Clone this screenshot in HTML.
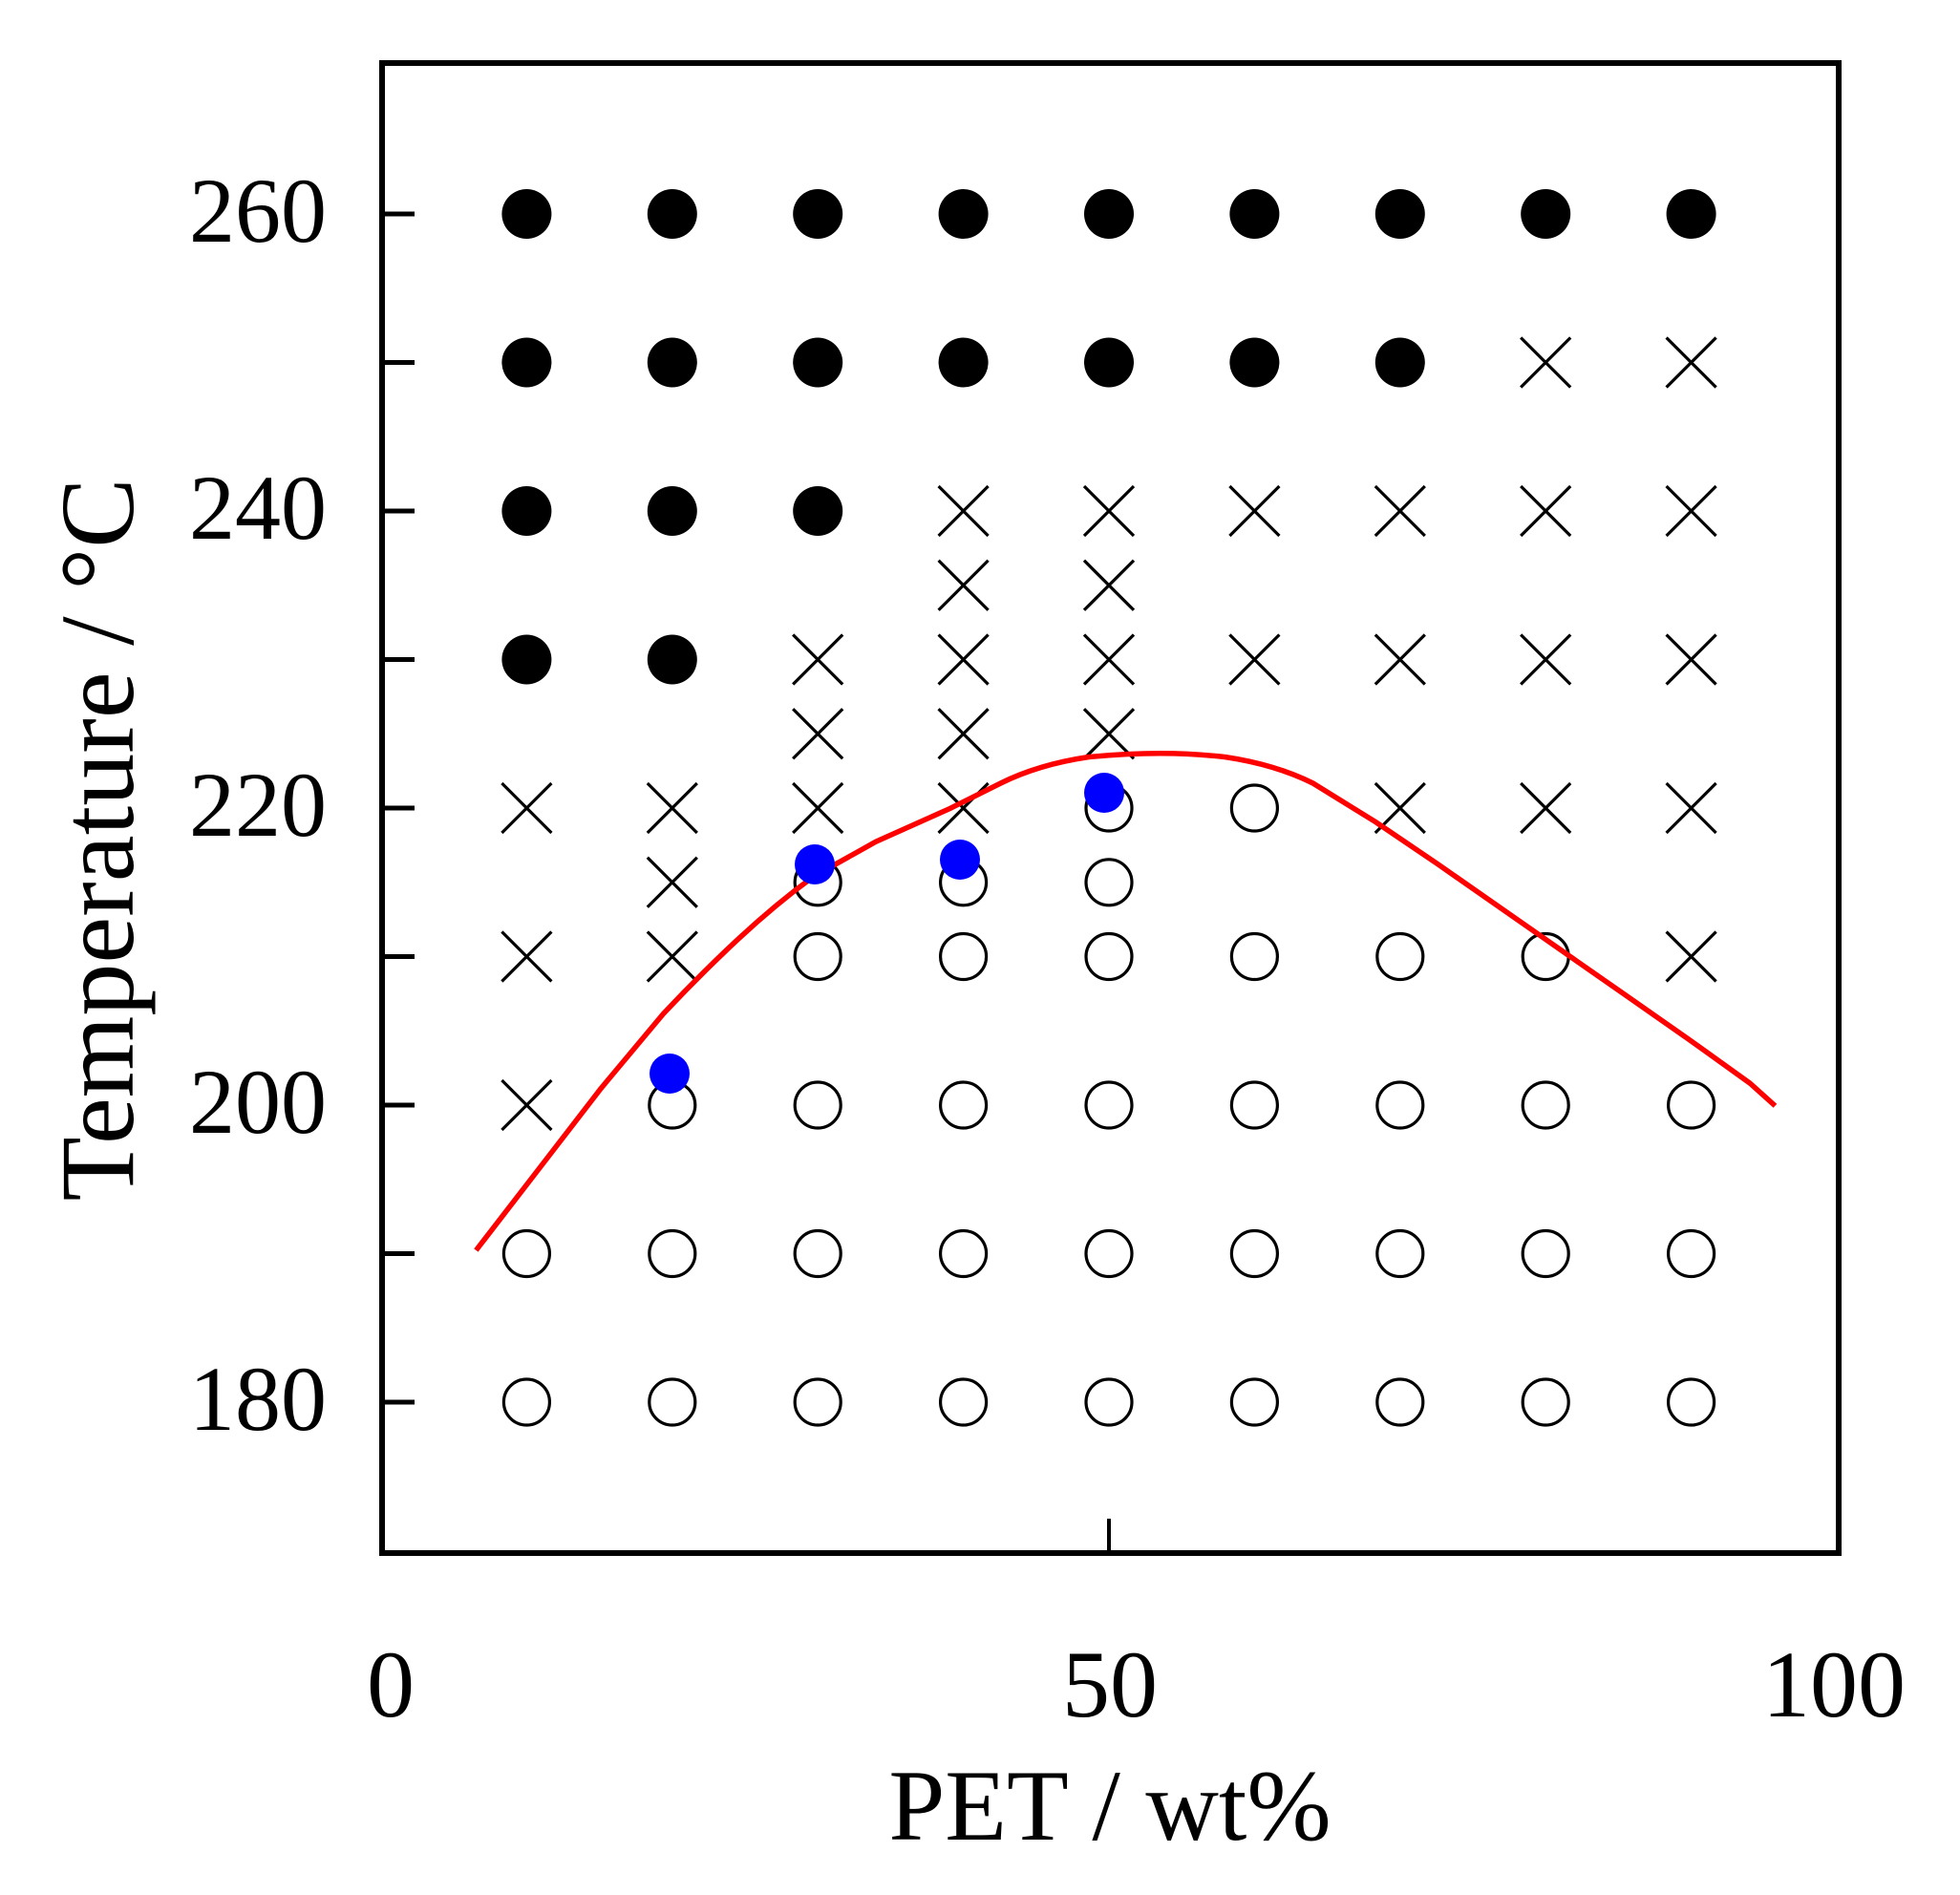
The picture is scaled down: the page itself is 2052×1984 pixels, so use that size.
<!DOCTYPE html>
<html><head><meta charset="utf-8"><style>
html,body{margin:0;padding:0;background:#fff;}
svg{display:block;}
text{font-family:"Liberation Serif",serif;fill:#000;}
</style></head><body>
<svg width="2052" height="1984" viewBox="0 0 2052 1984" xmlns="http://www.w3.org/2000/svg">
<defs>
<circle id="f" r="26" fill="#000"/>
<circle id="o" r="24" fill="none" stroke="#000" stroke-width="3.2"/>
<path id="x" d="M-26,-26L26,26M-26,26L26,-26" stroke="#000" stroke-width="3.2" fill="none"/>
</defs>
<rect x="0" y="0" width="2052" height="1984" fill="#fff"/>
<rect x="400" y="66" width="1525" height="1560" fill="none" stroke="#000" stroke-width="6"/>
<g stroke="#000" stroke-width="5">
<line x1="400" y1="224" x2="434" y2="224"/>
<line x1="400" y1="379.5" x2="434" y2="379.5"/>
<line x1="400" y1="535" x2="434" y2="535"/>
<line x1="400" y1="690.5" x2="434" y2="690.5"/>
<line x1="400" y1="846" x2="434" y2="846"/>
<line x1="400" y1="1001.5" x2="434" y2="1001.5"/>
<line x1="400" y1="1157" x2="434" y2="1157"/>
<line x1="400" y1="1312.5" x2="434" y2="1312.5"/>
<line x1="400" y1="1468" x2="434" y2="1468"/>
<line x1="1161" y1="1626" x2="1161" y2="1590" stroke-width="4"/>
</g>
<g font-size="96" text-anchor="end">
<text x="342" y="253">260</text>
<text x="342" y="564">240</text>
<text x="342" y="875">220</text>
<text x="342" y="1186">200</text>
<text x="342" y="1497">180</text>
</g>
<g font-size="100" text-anchor="middle">
<text x="409" y="1797">0</text>
<text x="1162" y="1797">50</text>
<text x="1920" y="1797">100</text>
</g>
<text x="1162" y="1926" font-size="106" text-anchor="middle">PET / wt%</text>
<text transform="translate(139,879) rotate(-90)" font-size="110" text-anchor="middle">Temperature / °C</text>

<use href="#f" x="551.4" y="224"/><use href="#f" x="703.8" y="224"/><use href="#f" x="856.2" y="224"/><use href="#f" x="1008.6" y="224"/><use href="#f" x="1161" y="224"/><use href="#f" x="1313.4" y="224"/><use href="#f" x="1465.8" y="224"/><use href="#f" x="1618.2" y="224"/><use href="#f" x="1770.6" y="224"/>
<use href="#f" x="551.4" y="379.5"/><use href="#f" x="703.8" y="379.5"/><use href="#f" x="856.2" y="379.5"/><use href="#f" x="1008.6" y="379.5"/><use href="#f" x="1161" y="379.5"/><use href="#f" x="1313.4" y="379.5"/><use href="#f" x="1465.8" y="379.5"/><use href="#x" x="1618.2" y="379.5"/><use href="#x" x="1770.6" y="379.5"/>
<use href="#f" x="551.4" y="535"/><use href="#f" x="703.8" y="535"/><use href="#f" x="856.2" y="535"/><use href="#x" x="1008.6" y="535"/><use href="#x" x="1161" y="535"/><use href="#x" x="1313.4" y="535"/><use href="#x" x="1465.8" y="535"/><use href="#x" x="1618.2" y="535"/><use href="#x" x="1770.6" y="535"/>
<use href="#x" x="1008.6" y="612.8"/><use href="#x" x="1161" y="612.8"/>
<use href="#f" x="551.4" y="690.5"/><use href="#f" x="703.8" y="690.5"/><use href="#x" x="856.2" y="690.5"/><use href="#x" x="1008.6" y="690.5"/><use href="#x" x="1161" y="690.5"/><use href="#x" x="1313.4" y="690.5"/><use href="#x" x="1465.8" y="690.5"/><use href="#x" x="1618.2" y="690.5"/><use href="#x" x="1770.6" y="690.5"/>
<use href="#x" x="856.2" y="768.3"/><use href="#x" x="1008.6" y="768.3"/><use href="#x" x="1161" y="768.3"/>
<use href="#x" x="551.4" y="846"/><use href="#x" x="703.8" y="846"/><use href="#x" x="856.2" y="846"/><use href="#x" x="1008.6" y="846"/><use href="#o" x="1161" y="846"/><use href="#o" x="1313.4" y="846"/><use href="#x" x="1465.8" y="846"/><use href="#x" x="1618.2" y="846"/><use href="#x" x="1770.6" y="846"/>
<use href="#x" x="703.8" y="923.8"/><use href="#o" x="856.2" y="923.8"/><use href="#o" x="1008.6" y="923.8"/><use href="#o" x="1161" y="923.8"/>
<use href="#x" x="551.4" y="1001.5"/><use href="#x" x="703.8" y="1001.5"/><use href="#o" x="856.2" y="1001.5"/><use href="#o" x="1008.6" y="1001.5"/><use href="#o" x="1161" y="1001.5"/><use href="#o" x="1313.4" y="1001.5"/><use href="#o" x="1465.8" y="1001.5"/><use href="#o" x="1618.2" y="1001.5"/><use href="#x" x="1770.6" y="1001.5"/>
<use href="#x" x="551.4" y="1157"/><use href="#o" x="703.8" y="1157"/><use href="#o" x="856.2" y="1157"/><use href="#o" x="1008.6" y="1157"/><use href="#o" x="1161" y="1157"/><use href="#o" x="1313.4" y="1157"/><use href="#o" x="1465.8" y="1157"/><use href="#o" x="1618.2" y="1157"/><use href="#o" x="1770.6" y="1157"/>
<use href="#o" x="551.4" y="1312.5"/><use href="#o" x="703.8" y="1312.5"/><use href="#o" x="856.2" y="1312.5"/><use href="#o" x="1008.6" y="1312.5"/><use href="#o" x="1161" y="1312.5"/><use href="#o" x="1313.4" y="1312.5"/><use href="#o" x="1465.8" y="1312.5"/><use href="#o" x="1618.2" y="1312.5"/><use href="#o" x="1770.6" y="1312.5"/>
<use href="#o" x="551.4" y="1468"/><use href="#o" x="703.8" y="1468"/><use href="#o" x="856.2" y="1468"/><use href="#o" x="1008.6" y="1468"/><use href="#o" x="1161" y="1468"/><use href="#o" x="1313.4" y="1468"/><use href="#o" x="1465.8" y="1468"/><use href="#o" x="1618.2" y="1468"/><use href="#o" x="1770.6" y="1468"/>

<g transform="matrix(1.3077 0 0 1.304 1.5 5)">
<path fill="none" stroke="#f00" stroke-width="4.2" stroke-linejoin="round"
d="M380,1000 L430,935 L480,870 L530,810 Q560,778 590,750 Q620,722 650,700 L700,672 L760,645 Q790,630 800,625 Q830,610 870,604 Q930,598 980,604 Q1020,610 1050,625 L1100,656 L1150,690 L1200,725 L1250,760 L1300,795 L1350,830 L1400,866 L1420,884"/>
</g>
<g fill="#0000ff">
<circle cx="701" cy="1124" r="21"/>
<circle cx="853" cy="905" r="21"/>
<circle cx="1005" cy="900" r="21"/>
<circle cx="1156" cy="830" r="21"/>
</g>
</svg>
</body></html>
